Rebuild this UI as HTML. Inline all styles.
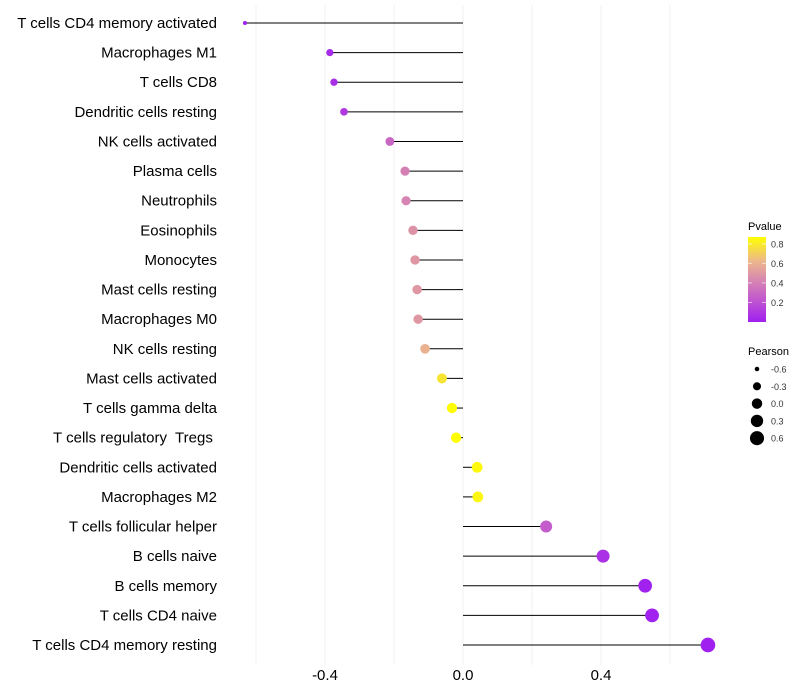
<!DOCTYPE html>
<html><head><meta charset="utf-8"><style>
body{margin:0;background:#fff;}
svg{display:block;font-family:"Liberation Sans",sans-serif;}
text{white-space:pre;}
</style></head><body>
<svg id="chart" width="800" height="700">
<defs><linearGradient id="pg" x1="0" y1="1" x2="0" y2="0">
<stop offset="0" stop-color="#a020f0"/><stop offset="0.25" stop-color="#c055d0"/><stop offset="0.5" stop-color="#d888b0"/><stop offset="0.72" stop-color="#edb88a"/><stop offset="1" stop-color="#ffff00"/></linearGradient></defs>
<g id="grid"></g>
<g id="marks"></g>
<g id="ylabels"></g>
<g id="xlabels"></g>
<g>
<text x="748" y="230" font-size="11">Pvalue</text>
<rect x="748" y="237" width="18" height="85" fill="url(#pg)"/>
<g id="pticks"></g>
</g>
<g id="slegend">
<text x="748" y="355" font-size="11">Pearson</text>
</g>
</svg>
<script>
const categories=["T cells CD4 memory activated","Macrophages M1","T cells CD8","Dendritic cells resting","NK cells activated","Plasma cells","Neutrophils","Eosinophils","Monocytes","Mast cells resting","Macrophages M0","NK cells resting","Mast cells activated","T cells gamma delta","T cells regulatory  Tregs ","Dendritic cells activated","Macrophages M2","T cells follicular helper","B cells naive","B cells memory","T cells CD4 naive","T cells CD4 memory resting"];
const pearson=[-0.632,-0.386,-0.374,-0.345,-0.212,-0.168,-0.165,-0.145,-0.139,-0.133,-0.130,-0.110,-0.061,-0.032,-0.020,0.041,0.043,0.241,0.406,0.528,0.548,0.710];
const pvalue=[0.002,0.05,0.06,0.1,0.3,0.4,0.42,0.48,0.5,0.5,0.5,0.6,0.78,0.86,0.9,0.85,0.84,0.25,0.07,0.01,0.008,0.001];
const xTicks=[-0.4,0.0,0.4];
const xTickLabels=["-0.4","0.0","0.4"];
const gridVals=[-0.6,-0.4,-0.2,0,0.2,0.4,0.6];
const pTicks=[0.2,0.4,0.6,0.8];
const sizeVals=[-0.6,-0.3,0.0,0.3,0.6];
const NS="http://www.w3.org/2000/svg";
const x=v=>463+v*345;
const y=i=>23+i*(622/21);
const r=v=>Math.sqrt(Math.max(3,4+37*(v+0.632)));
const pY=p=>322-(p/0.87)*85;
const stops=[[0,[160,32,240]],[0.25,[192,85,208]],[0.5,[216,136,176]],[0.72,[237,184,138]],[1,[255,255,0]]];
function col(p){let t=Math.min(1,Math.max(0,p/0.87));for(let k=1;k<stops.length;k++){if(t<=stops[k][0]){const a=stops[k-1],b=stops[k];const f=(t-a[0])/(b[0]-a[0]);const c=a[1].map((v,j)=>Math.round(v+(b[1][j]-v)*f));return `rgb(${c})`;}}return "rgb(255,255,0)";}
function mk(tag,attrs,parent){const e=document.createElementNS(NS,tag);for(const k in attrs)e.setAttribute(k,attrs[k]);parent.appendChild(e);return e;}
const grid=document.getElementById('grid');
gridVals.forEach(g=>{const l=mk('line',{x1:x(g),x2:x(g),y1:5,y2:665,stroke:'#f0f0f0','stroke-width':1},grid);

});
const marks=document.getElementById('marks'),yl=document.getElementById('ylabels');
categories.forEach((c,i)=>{
const l=mk('line',{x1:x(0),x2:x(pearson[i]),y1:y(i),y2:y(i),stroke:'#000','stroke-width':1},marks);


const d=mk('circle',{cx:x(pearson[i]),cy:y(i),r:r(pearson[i]),fill:col(pvalue[i])},marks);


const t=mk('text',{x:217,y:y(i)+5,'text-anchor':'end','font-size':15,fill:'#000'},yl);t.textContent=c;


});
const xl=document.getElementById('xlabels');
xTicks.forEach((v,i)=>{const t=mk('text',{x:x(v),y:680,'text-anchor':'middle','font-size':15,fill:'#000'},xl);t.textContent=xTickLabels[i];

});
const pt=document.getElementById('pticks');
pTicks.forEach(p=>{mk('line',{x1:748,x2:752,y1:pY(p),y2:pY(p),stroke:'#fff','stroke-opacity':0.6},pt);mk('line',{x1:762,x2:766,y1:pY(p),y2:pY(p),stroke:'#fff','stroke-opacity':0.6},pt);
const t=mk('text',{x:771,y:pY(p)+3.5,'font-size':9,fill:'#333'},pt);t.textContent=p.toFixed(1);

});
const sl=document.getElementById('slegend');
sizeVals.forEach((v,i)=>{const cy=369+i*17.3;const c=mk('circle',{cx:757,cy:cy,r:r(v),fill:'#000'},sl);


const t=mk('text',{x:771,y:cy+3.5,'font-size':9,fill:'#333'},sl);t.textContent=v.toFixed(1);

});
</script>
</body></html>
